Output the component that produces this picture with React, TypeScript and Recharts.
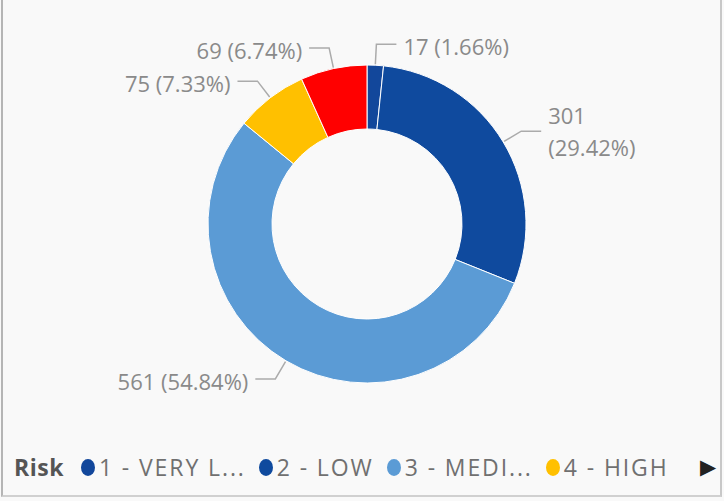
import React from 'react';
import { PieChart, Pie, Cell, Legend } from 'recharts';

const categories = ['1 - VERY LOW', '2 - LOW', '3 - MEDIUM', '4 - HIGH', '5 - VERY HIGH'];
const counts = [17, 301, 561, 75, 69];
const colors = ['#12479b', '#0f4a9e', '#5b9bd5', '#ffc000', '#ff0000'];
const legendLabels = ['1 - VERY L...', '2 - LOW', '3 - MEDI...', '4 - HIGH'];
const legendTitle = 'Risk';

const total = counts.reduce((a, b) => a + b, 0);
const data = categories.map((name, i) => ({ name, value: counts[i] }));

const FONT = '"Open Sans", "Noto Sans", sans-serif';
const RADIAN = Math.PI / 180;

const renderLabel = (props: any) => {
  const { cx, cy, midAngle, outerRadius, value } = props;
  const cos = Math.cos(-midAngle * RADIAN);
  const sin = Math.sin(-midAngle * RADIAN);
  const sx = cx + (outerRadius + 1) * cos;
  const sy = cy + (outerRadius + 1) * sin;
  const ex = cx + (outerRadius + 21) * cos;
  const ey = cy + (outerRadius + 21) * sin;
  const right = cos >= 0;
  const hx = ex + (right ? 20 : -20);
  const tx = hx + (right ? 7 : -7);
  const pct = ((value / total) * 100).toFixed(2) + '%';
  const full = `${value} (${pct})`;
  const est = full.length * 0.56 * 22;
  const wrap = right && tx + est > 660;
  return (
    <g>
      <polyline points={`${sx},${sy} ${ex},${ey} ${hx},${ey}`} fill="none" stroke="#ababab" strokeWidth={1.5} />
      {wrap ? (
        <text x={tx} y={ey} fill="#8a8a8a" fontSize={22} fontFamily={FONT} textAnchor="start">
          <tspan x={tx} dy={-16} dominantBaseline="central">{value}</tspan>
          <tspan x={tx} dy={32} dominantBaseline="central">({pct})</tspan>
        </text>
      ) : (
        <text x={tx} y={ey + 2} fill="#8a8a8a" fontSize={22} fontFamily={FONT} textAnchor={right ? 'start' : 'end'} dominantBaseline="central">
          {full}
        </text>
      )}
    </g>
  );
};

const renderLegend = () => (
  <div style={{ position: 'relative', display: 'flex', alignItems: 'center', fontFamily: FONT, fontSize: 23, color: '#707070', whiteSpace: 'nowrap', height: 34 }}>
    <span style={{ fontWeight: 700, color: '#555', marginLeft: 14, marginRight: 17, letterSpacing: 0.5 }}>{legendTitle}</span>
    {legendLabels.map((l, i) => (
      <span key={l} style={{ display: 'flex', alignItems: 'center', marginRight: 13 }}>
        <span style={{ display: 'inline-block', width: 14, height: 17, borderRadius: '50%', background: colors[i], marginRight: 4 }} />
        <span style={{ letterSpacing: 1.9 }}>{l}</span>
      </span>
    ))}
    <span style={{ position: 'absolute', left: 700, top: 2, fontSize: 21, color: '#222' }}>▶</span>
  </div>
);

export default function App() {
  return (
    <div style={{ position: 'absolute', left: 0, top: 0, width: 724, height: 501, background: '#f9f9f9', overflow: 'hidden' }}>
      <div style={{ position: 'absolute', left: 1, top: -5, width: 721, height: 502, borderLeft: '2px solid #b5b5b5', borderRight: '2px solid #c8c8c8', borderBottom: '2px solid #d0d0d0', boxSizing: 'border-box' }} />
      <PieChart width={724} height={501} margin={{ top: 0, right: 0, bottom: 0, left: 0 }} style={{ position: 'absolute', left: 0, top: 0 }}>
        <Pie
          data={data}
          dataKey="value"
          nameKey="name"
          cx={367}
          cy={224}
          innerRadius={95}
          outerRadius={159}
          startAngle={90}
          endAngle={-270}
          stroke="#ffffff"
          strokeWidth={1}
          label={renderLabel}
          labelLine={false}
          isAnimationActive={false}
        >
          {data.map((d, i) => (
            <Cell key={d.name} fill={colors[i]} />
          ))}
        </Pie>
        <Legend content={renderLegend} wrapperStyle={{ left: 0, top: 450, width: 724 }} />
      </PieChart>
    </div>
  );
}
